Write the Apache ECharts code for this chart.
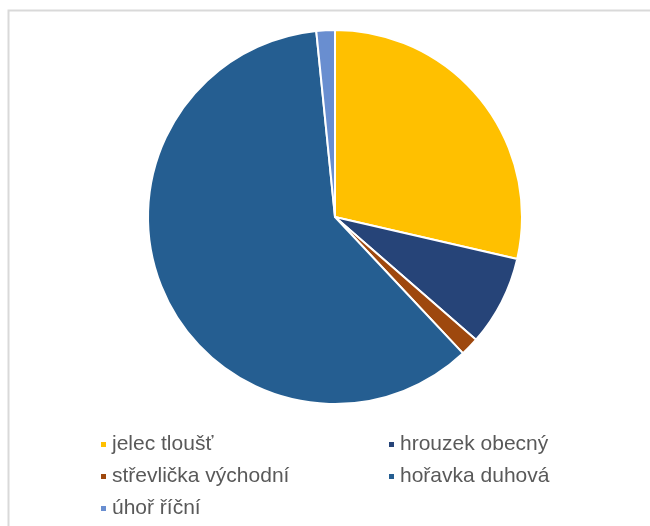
<!DOCTYPE html>
<html>
<head>
<meta charset="utf-8">
<script src="https://cdn.jsdelivr.net/npm/echarts@6/dist/echarts.min.js"></script>
<style>
  html, body { margin: 0; padding: 0; background: #fff; }
  #chart { width: 650px; height: 526px; }
</style>
</head>
<body>
<div id="chart"></div>
<script>
// fish species and their share (in %)
const species = ['jelec tloušť', 'hrouzek obecný', 'střevlička východní', 'hořavka duhová', 'úhoř říční'];
const shares = [28.6, 7.8, 1.6, 60.4, 1.6];
const colors = ['#FFC000', '#264478', '#9E480E', '#255E91', '#698ED0'];

const legendText = { color: '#595959', fontSize: 21, fontFamily: 'Liberation Sans, Arial, sans-serif' };

const option = {
    animation: false,
    color: colors,
    graphic: [{
        type: 'rect',
        shape: { x: 8.5, y: 10.5, width: 700, height: 600 },
        style: { fill: 'none', stroke: '#d9d9d9', lineWidth: 2 },
        silent: true
    }],
    legend: [
        {
            orient: 'vertical',
            left: 99,
            top: 434,
            padding: 0,
            itemWidth: 7,
            itemHeight: 7,
            itemGap: 11,
            icon: 'rect',
            textStyle: legendText,
            data: [species[0], species[2], species[4]]
        },
        {
            orient: 'vertical',
            left: 387,
            top: 434,
            padding: 0,
            itemWidth: 7,
            itemHeight: 7,
            itemGap: 11,
            icon: 'rect',
            textStyle: legendText,
            data: [species[1], species[3]]
        }
    ],
    series: [
        {
            type: 'pie',
            center: [335, 217],
            radius: 187,
            startAngle: 90,
            clockwise: true,
            label: { show: false },
            labelLine: { show: false },
            emphasis: { disabled: true },
            itemStyle: { borderColor: '#fff', borderWidth: 2 },
            data: species.map((name, i) => ({ name: name, value: shares[i] }))
        }
    ]
};

const myChart = echarts.init(document.getElementById('chart'));
myChart.setOption(option);
</script>
</body>
</html>
